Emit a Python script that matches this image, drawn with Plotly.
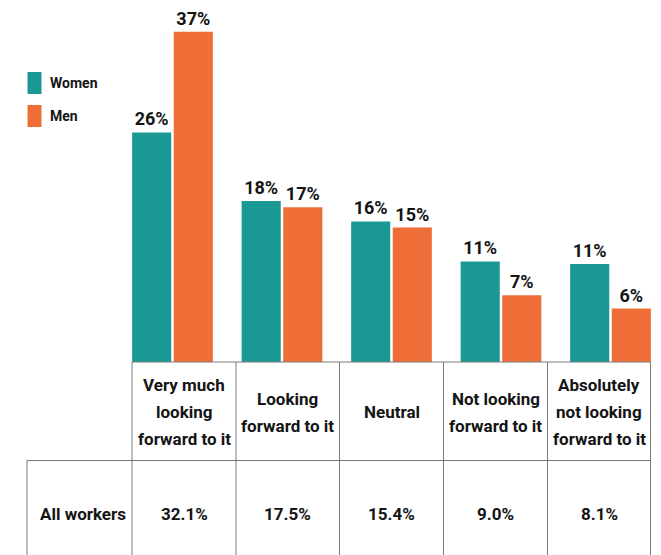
import plotly.graph_objects as go

# ---- data ----
categories = [
    "Very much looking forward to it",
    "Looking forward to it",
    "Neutral",
    "Not looking forward to it",
    "Absolutely not looking forward to it",
]
header_lines = [
    ["Very much", "looking", "forward to it"],
    ["Looking", "forward to it"],
    ["Neutral"],
    ["Not looking", "forward to it"],
    ["Absolutely", "not looking", "forward to it"],
]
women = [25.8, 18.1, 15.8, 11.3, 11.0]
men = [37.1, 17.4, 15.1, 7.5, 6.0]
women_labels = ["26%", "18%", "16%", "11%", "11%"]
men_labels = ["37%", "17%", "15%", "7%", "6%"]
row_label = "All workers"
all_workers = ["32.1%", "17.5%", "15.4%", "9.0%", "8.1%"]

TEAL = "#1a9994"
ORANGE = "#ef6d36"
INK = "#141414"
LINE = "#7a7a7a"
FONT = "Roboto, Arial, sans-serif"

W, H = 661, 555


def px(x):
    return x / W


def py(y):
    return 1 - y / H


def f(size):
    return dict(family=FONT, size=size, color=INK, weight="bold")


fig = go.Figure()
fig.add_trace(go.Bar(
    x=categories, y=women, name="Women", marker=dict(color=TEAL, line=dict(width=0)),
    text=women_labels, textposition="outside", cliponaxis=False, constraintext="none",
    textfont=f(18), showlegend=False,
))
fig.add_trace(go.Bar(
    x=categories, y=men, name="Men", marker=dict(color=ORANGE, line=dict(width=0)),
    text=men_labels, textposition="outside", cliponaxis=False, constraintext="none",
    textfont=f(18), showlegend=False,
))

shapes = []
annotations = []

# table grid
col_edges = [132, 236, 339.5, 443.5, 547.5, 650.5]
shapes.append(dict(type="line", xref="paper", yref="paper",
                   x0=px(col_edges[0]), x1=px(col_edges[-1]), y0=py(362), y1=py(362),
                   line=dict(color=LINE, width=1)))
for xe in col_edges:
    shapes.append(dict(type="line", xref="paper", yref="paper",
                       x0=px(xe), x1=px(xe), y0=py(362), y1=py(556),
                       line=dict(color=LINE, width=1)))
shapes.append(dict(type="line", xref="paper", yref="paper",
                   x0=px(27), x1=px(col_edges[-1]), y0=py(460.5), y1=py(460.5),
                   line=dict(color=LINE, width=1)))
shapes.append(dict(type="line", xref="paper", yref="paper",
                   x0=px(27), x1=px(27), y0=py(460.5), y1=py(556),
                   line=dict(color=LINE, width=1)))

# header texts
line_step = 27
for i, lines in enumerate(header_lines):
    cx = (col_edges[i] + col_edges[i + 1]) / 2
    n = len(lines)
    for j, t in enumerate(lines):
        cy = 412 + (j - (n - 1) / 2) * line_step
        annotations.append(dict(xref="paper", yref="paper", x=px(cx), y=py(cy),
                                text=t, showarrow=False, xanchor="center", yanchor="middle",
                                font=f(17)))
    annotations.append(dict(xref="paper", yref="paper", x=px(cx), y=py(514),
                            text=all_workers[i], showarrow=False, xanchor="center",
                            yanchor="middle", font=f(17)))
annotations.append(dict(xref="paper", yref="paper", x=px(83), y=py(514),
                        text=row_label, showarrow=False, xanchor="center", yanchor="middle",
                        font=f(17)))

# legend
for name, color, cy in [("Women", TEAL, 83), ("Men", ORANGE, 116)]:
    shapes.append(dict(type="rect", xref="paper", yref="paper",
                       x0=px(27.5), x1=px(41.5), y0=py(cy - 11), y1=py(cy + 11),
                       fillcolor=color, line=dict(width=0)))
    annotations.append(dict(xref="paper", yref="paper", x=px(48), y=py(cy),
                            text=name, showarrow=False, xanchor="left", yanchor="middle",
                            font=f(14)))

pitch = 109.5
c0 = 172.5
base = 362
scale = 8.9

fig.update_layout(
    width=W, height=H,
    margin=dict(l=0, r=0, t=0, b=0),
    paper_bgcolor="white", plot_bgcolor="white",
    barmode="group", bargap=0.24, bargroupgap=0.06,
    xaxis=dict(type="category", range=[(0 - c0) / pitch, (W - c0) / pitch],
               showgrid=False, zeroline=False, showticklabels=False, showline=False,
               fixedrange=True),
    yaxis=dict(range=[-(H - base) / scale, base / scale], showgrid=False, zeroline=False,
               showticklabels=False, showline=False, fixedrange=True),
    shapes=shapes, annotations=annotations,
    font=dict(family=FONT, color=INK),
)

fig.write_html("out.html", config={"displayModeBar": False},
               post_script="document.body.style.margin='0';document.body.style.overflow='hidden';")
